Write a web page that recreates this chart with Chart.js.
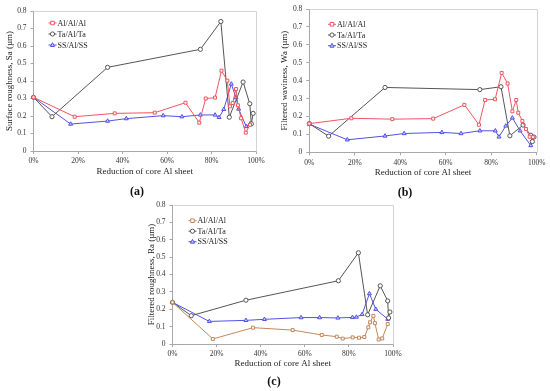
<!DOCTYPE html>
<html><head><meta charset="utf-8">
<script src="https://cdn.jsdelivr.net/npm/chart.js@4"></script>
<style>
html,body{margin:0;padding:0;background:#fff;}
body{width:550px;height:391px;position:relative;overflow:hidden;}
canvas{position:absolute;}
.lab{position:absolute;font:bold 12px "Liberation Serif",serif;color:#111;transform:translate(-50%,-50%);white-space:nowrap;}
</style></head><body>
<canvas id="ca" width="275" height="200" style="left:0;top:0"></canvas>
<canvas id="cb" width="275" height="200" style="left:275px;top:0"></canvas>
<canvas id="cc" width="285" height="196" style="left:130px;top:195px"></canvas>
<div class="lab" style="left:137px;top:191px">(a)</div>
<div class="lab" style="left:405px;top:192px">(b)</div>
<div class="lab" style="left:274px;top:381px">(c)</div>
<script>
// ---------- data ----------
const seriesNames = ['Al/Al/Al', 'Ta/Al/Ta', 'SS/Al/SS'];
const xTickLabels = ['0%', '20%', '40%', '60%', '80%', '100%'];
const yTickLabels = ['0', '0.1', '0.2', '0.3', '0.4', '0.5', '0.6', '0.7', '0.8'];
const panelTitlesY = ['Surface roughness, Sa (\u00b5m)', 'Filtered waviness, Wa (\u00b5m)', 'Filtered roughness, Ra (\u00b5m)'];
const xTitle = 'Reduction of core Al sheet';

// panel (a) Sa
const aAlX = [0, 18.5, 36.5, 54.5, 68.3, 74.5, 77.4, 81.6, 84.5, 87.1, 88.3, 89.5, 91, 91.9, 93.3, 95.4, 97.3];
const aAlY = [0.307, 0.196, 0.215, 0.219, 0.276, 0.162, 0.300, 0.305, 0.459, 0.402, 0.255, 0.274, 0.354, 0.261, 0.187, 0.105, 0.150];
const aTaX = [0, 8.3, 33.3, 75, 84.2, 88, 94.2, 97.2, 97.9, 98.7];
const aTaY = [0.307, 0.196, 0.478, 0.581, 0.740, 0.193, 0.394, 0.270, 0.155, 0.215];
const aSsX = [0, 16.7, 33.3, 41.7, 58.3, 66.7, 75, 81.6, 83.4, 85.5, 88.9, 91, 92.2, 95.6, 97.3];
const aSsY = [0.307, 0.154, 0.171, 0.185, 0.202, 0.196, 0.206, 0.206, 0.192, 0.238, 0.383, 0.305, 0.240, 0.140, 0.155];

// panel (b) Wa
const bAlX = [0, 18.5, 36.5, 54.5, 68.2, 74.6, 77.3, 81.7, 84.6, 87.2, 89.3, 91, 91.9, 93.7, 95.3, 96.9, 98.3];
const bAlY = [0.160, 0.190, 0.185, 0.188, 0.265, 0.154, 0.292, 0.296, 0.443, 0.384, 0.229, 0.292, 0.221, 0.175, 0.130, 0.087, 0.085];
const bTaX = [0, 8.5, 33.3, 75, 84.3, 88.2, 94, 97.4, 98.1, 98.8];
const bTaY = [0.160, 0.090, 0.362, 0.350, 0.366, 0.092, 0.152, 0.095, 0.060, 0.085];
const bSsX = [0, 16.7, 33.3, 41.7, 58.3, 66.7, 75, 81.8, 83.4, 86.4, 89.3, 92.7, 97.4];
const bSsY = [0.157, 0.070, 0.091, 0.105, 0.111, 0.105, 0.120, 0.120, 0.086, 0.147, 0.192, 0.120, 0.038];

// panel (c) Ra
const cAlX = [0, 18.3, 36.5, 54.5, 67.7, 74.5, 77.2, 81.7, 84.6, 87, 88.8, 89.6, 91.1, 91.8, 93.5, 95.1, 97.6];
const cAlY = [0.240, 0.029, 0.094, 0.080, 0.052, 0.042, 0.031, 0.038, 0.036, 0.040, 0.096, 0.125, 0.162, 0.120, 0.026, 0.032, 0.115];
const cTaX = [0, 8.5, 33.3, 75.2, 84.3, 88.5, 94.2, 97.6, 98, 98.6];
const cTaY = [0.240, 0.163, 0.252, 0.364, 0.525, 0.168, 0.335, 0.248, 0.150, 0.184];
const cSsX = [0, 16.7, 33.3, 41.7, 58.3, 66.7, 75, 81.6, 83.4, 86, 89.3, 92.2, 97.6];
const cSsY = [0.240, 0.130, 0.136, 0.142, 0.152, 0.152, 0.150, 0.153, 0.155, 0.170, 0.290, 0.200, 0.143];

// ---------- helpers ----------
const FONT = '"Liberation Serif", "Times New Roman", serif';
function pts(xs, ys) { return xs.map((x, i) => ({ x: x, y: ys[i] })); }

function ds(label, xs, ys, color, style, fill) {
  return {
    label: label, data: pts(xs, ys), showLine: true, borderColor: color, borderWidth: 1,
    pointStyle: style, pointRadius: style === 'triangle' ? 2.3 : 2.1, pointBorderWidth: 1, pointBackgroundColor: fill,
    pointBorderColor: color, clip: false, tension: 0
  };
}

const framePlugin = {
  id: 'frame',
  beforeDatasetsDraw(chart) {
    const { ctx, chartArea: a } = chart;
    ctx.save();
    ctx.strokeStyle = '#d4d4d4';
    ctx.lineWidth = 1;
    ctx.beginPath();
    const l = Math.round(a.left) + 0.5, r = Math.round(a.right) + 0.5;
    const t = Math.round(a.top) + 0.5, b = Math.round(a.bottom) + 0.5;
    ctx.moveTo(l, t); ctx.lineTo(r, t); ctx.lineTo(r, b);
    ctx.stroke();
    ctx.restore();
  }
};

function drawMarker(ctx, style, cx, cy, r, stroke, fill) {
  ctx.beginPath();
  if (style === 'rect') {
    ctx.rect(cx - r * 0.85, cy - r * 0.85, r * 1.7, r * 1.7);
  } else if (style === 'triangle') {
    ctx.moveTo(cx, cy - r * 1.1);
    ctx.lineTo(cx + r, cy + r * 0.7);
    ctx.lineTo(cx - r, cy + r * 0.7);
    ctx.closePath();
  } else {
    ctx.arc(cx, cy, r, 0, Math.PI * 2);
  }
  ctx.fillStyle = fill; ctx.fill();
  ctx.strokeStyle = stroke; ctx.lineWidth = 1; ctx.stroke();
}

const legendPlugin = {
  id: 'miniLegend',
  afterDraw(chart, args, o) {
    const ctx = chart.ctx;
    ctx.save();
    ctx.font = '8px ' + FONT;
    ctx.textBaseline = 'middle';
    chart.data.datasets.forEach((d, i) => {
      const y = o.y + i * o.gap;
      ctx.strokeStyle = d.borderColor; ctx.lineWidth = 1;
      ctx.beginPath(); ctx.moveTo(o.x - 4, y); ctx.lineTo(o.x + 4, y); ctx.stroke();
      drawMarker(ctx, d.pointStyle, o.x, y, 2.1, d.borderColor, d.pointBackgroundColor);
      ctx.fillStyle = '#222';
      ctx.fillText(d.label, o.x + 5, y + 0.5);
    });
    ctx.restore();
  }
};

function makeChart(id, p) {
  return new Chart(document.getElementById(id), {
    type: 'scatter',
    data: { datasets: p.datasets },
    plugins: [framePlugin, legendPlugin],
    options: {
      responsive: false, animation: false, events: [],
      layout: { padding: p.pad },
      plugins: {
        legend: { display: false }, tooltip: { enabled: false },
        miniLegend: p.legend
      },
      scales: {
        x: {
          type: 'linear', min: 0, max: 100,
          afterFit(s) { s.height = p.xH; },
          grid: { drawOnChartArea: false, drawTicks: true, tickLength: 3, color: '#a8a8a8' },
          border: { color: '#a8a8a8', width: 1 },
          ticks: {
            stepSize: 20, padding: 3, color: '#333', maxRotation: 0,
            font: { family: FONT, size: 7.5 },
            callback: (v) => xTickLabels[Math.round(v / 20)]
          },
          title: { display: true, text: xTitle, padding: 0, color: '#222', font: { family: FONT, size: 9 } }
        },
        y: {
          type: 'linear', min: 0, max: 0.8,
          afterFit(s) { s.width = p.yW; },
          grid: { drawOnChartArea: false, drawTicks: true, tickLength: 3, color: '#a8a8a8' },
          border: { color: '#a8a8a8', width: 1 },
          ticks: {
            stepSize: 0.1, padding: 4, color: '#333',
            font: { family: FONT, size: 7.5 },
            callback: (v) => yTickLabels[Math.round(v * 10)]
          },
          title: { display: true, text: p.yTitle, padding: 0, color: '#222', font: { family: FONT, size: 9 } }
        }
      }
    }
  });
}

const RED = '#EF5561', GREY = '#555555', BLUE = '#5252E4', BROWN = '#C4875B';

makeChart('ca', {
  pad: { left: 4.6, top: 11, right: 19, bottom: 22.6 }, yW: 28.9, xH: 26.4,
  yTitle: panelTitlesY[0],
  legend: { x: 52.5, y: 23, gap: 11 },
  datasets: [
    ds(seriesNames[0], aAlX, aAlY, RED, 'rect', '#fff'),
    ds(seriesNames[1], aTaX, aTaY, GREY, 'circle', '#fff'),
    ds(seriesNames[2], aSsX, aSsY, BLUE, 'triangle', '#c9c9ff')
  ]
});
makeChart('cb', {
  pad: { left: 4.6, top: 9, right: 13.3, bottom: 21.6 }, yW: 29.7, xH: 26.1,
  yTitle: panelTitlesY[1],
  legend: { x: 57, y: 24.3, gap: 10.7 },
  datasets: [
    ds(seriesNames[0], bAlX, bAlY, RED, 'rect', '#fff'),
    ds(seriesNames[1], bTaX, bTaY, GREY, 'circle', '#fff'),
    ds(seriesNames[2], bSsX, bSsY, BLUE, 'triangle', '#c9c9ff')
  ]
});
makeChart('cc', {
  pad: { left: 16.3, top: 10, right: 22, bottom: 21.6 }, yW: 26.2, xH: 25.4,
  yTitle: panelTitlesY[2],
  legend: { x: 62.5, y: 25.7, gap: 10.5 },
  datasets: [
    ds(seriesNames[0], cAlX, cAlY, BROWN, 'rect', '#fff'),
    ds(seriesNames[1], cTaX, cTaY, GREY, 'circle', '#fff'),
    ds(seriesNames[2], cSsX, cSsY, BLUE, 'triangle', '#c9c9ff')
  ]
});
</script>
</body></html>
